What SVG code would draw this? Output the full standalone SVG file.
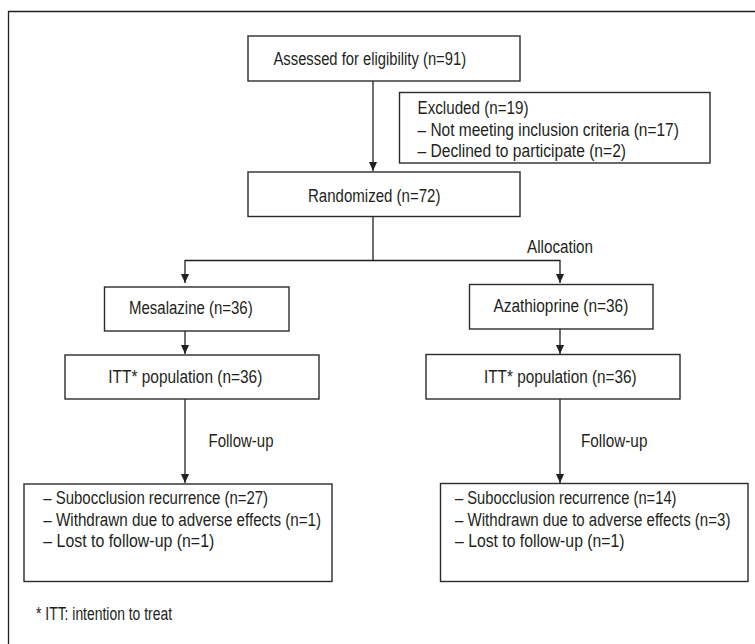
<svg xmlns="http://www.w3.org/2000/svg" width="755" height="644" viewBox="0 0 755 644">
<style>
  .box{fill:#fff;stroke:#2b2b2b;stroke-width:1.4}
  .t{font-family:"Liberation Sans",Arial,sans-serif;font-size:18px;fill:#231f20}
  .ln{fill:none;stroke:#231f20;stroke-width:1.3}
</style>
<defs>
  <marker id="ah" markerUnits="userSpaceOnUse" markerWidth="10" markerHeight="10" refX="9" refY="5" orient="auto">
    <path d="M0,1 L9,5 L0,9 Z" fill="#231f20"/>
  </marker>
</defs>
<g id="frame">
  <path class="ln" d="M8.5,644 V11.5 H755" stroke-width="1.6"/>
</g>
<g id="connectors">
  <path class="ln" d="M373,81 V171" marker-end="url(#ah)"/>
  <path class="ln" d="M373,217 V260.5 H185 V283" marker-end="url(#ah)"/>
  <path class="ln" d="M373,260.5 H560 V283" marker-end="url(#ah)"/>
  <path class="ln" d="M185,331 V354" marker-end="url(#ah)"/>
  <path class="ln" d="M560,329 V354" marker-end="url(#ah)"/>
  <path class="ln" d="M185,399 V483" marker-end="url(#ah)"/>
  <path class="ln" d="M560,399 V483" marker-end="url(#ah)"/>
</g>
<g id="n-assessed">
  <rect class="box" x="248" y="36" width="272" height="45"/>
  <text class="t" x="273.5" y="65" textLength="192.6" lengthAdjust="spacingAndGlyphs">Assessed for eligibility (n=91)</text>
</g>
<g id="n-excluded">
  <rect class="box" x="399.5" y="92.5" width="310.5" height="70.5"/>
  <text class="t" x="417.5" y="114" textLength="111" lengthAdjust="spacingAndGlyphs">Excluded (n=19)</text>
  <text class="t" x="417.5" y="135.5" textLength="261.4" lengthAdjust="spacingAndGlyphs">– Not meeting inclusion criteria (n=17)</text>
  <text class="t" x="417.5" y="157" textLength="208.5" lengthAdjust="spacingAndGlyphs">– Declined to participate (n=2)</text>
</g>
<g id="n-randomized">
  <rect class="box" x="248" y="172" width="272" height="44.5"/>
  <text class="t" x="308" y="201.5" textLength="132.4" lengthAdjust="spacingAndGlyphs">Randomized (n=72)</text>
</g>
<g id="l-allocation">
  <text class="t" x="527" y="252.5" textLength="66" lengthAdjust="spacingAndGlyphs">Allocation</text>
</g>
<g id="n-mesalazine">
  <rect class="box" x="104.5" y="287" width="184.5" height="44"/>
  <text class="t" x="129" y="314" textLength="123.7" lengthAdjust="spacingAndGlyphs">Mesalazine (n=36)</text>
</g>
<g id="n-azathioprine">
  <rect class="box" x="469.5" y="284.5" width="183.5" height="44.5"/>
  <text class="t" x="493.5" y="312" textLength="134.8" lengthAdjust="spacingAndGlyphs">Azathioprine (n=36)</text>
</g>
<g id="n-itt-left">
  <rect class="box" x="65" y="355" width="254" height="44"/>
  <text class="t" x="108.3" y="382.5" textLength="154" lengthAdjust="spacingAndGlyphs">ITT* population (n=36)</text>
</g>
<g id="n-itt-right">
  <rect class="box" x="426" y="354.5" width="254" height="44.5"/>
  <text class="t" x="484" y="382.5" textLength="152.6" lengthAdjust="spacingAndGlyphs">ITT* population (n=36)</text>
</g>
<g id="l-followup-left">
  <text class="t" x="208.5" y="447" textLength="65" lengthAdjust="spacingAndGlyphs">Follow-up</text>
</g>
<g id="l-followup-right">
  <text class="t" x="581" y="447" textLength="66.4" lengthAdjust="spacingAndGlyphs">Follow-up</text>
</g>
<g id="n-outcome-left">
  <rect class="box" x="24" y="484" width="308" height="97.5"/>
  <text class="t" x="43.3" y="504" textLength="224.8" lengthAdjust="spacingAndGlyphs">– Subocclusion recurrence (n=27)</text>
  <text class="t" x="43.3" y="525.5" textLength="277.8" lengthAdjust="spacingAndGlyphs">– Withdrawn due to adverse effects (n=1)</text>
  <text class="t" x="43.3" y="547" textLength="171" lengthAdjust="spacingAndGlyphs">– Lost to follow-up (n=1)</text>
</g>
<g id="n-outcome-right">
  <rect class="box" x="440.5" y="483.5" width="307.5" height="98"/>
  <text class="t" x="455" y="504" textLength="221.5" lengthAdjust="spacingAndGlyphs">– Subocclusion recurrence (n=14)</text>
  <text class="t" x="455" y="525.5" textLength="275.4" lengthAdjust="spacingAndGlyphs">– Withdrawn due to adverse effects (n=3)</text>
  <text class="t" x="455" y="547" textLength="169.5" lengthAdjust="spacingAndGlyphs">– Lost to follow-up (n=1)</text>
</g>
<g id="footnote">
  <text class="t" x="36" y="620" textLength="136" lengthAdjust="spacingAndGlyphs">* ITT: intention to treat</text>
</g>
</svg>
